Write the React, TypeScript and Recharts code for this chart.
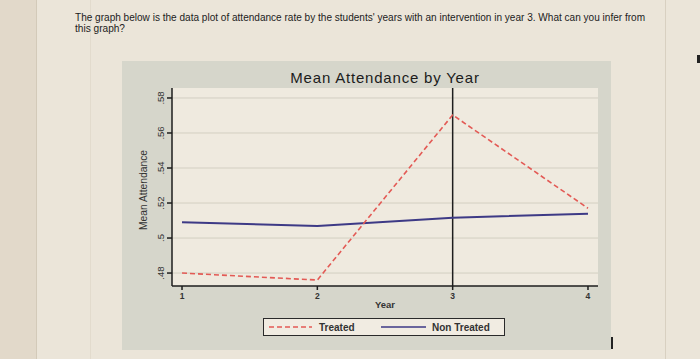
import React from "react";
import {
  LineChart,
  Line,
  XAxis,
  YAxis,
  CartesianGrid,
  ReferenceLine,
} from "recharts";

const years = [1, 2, 3, 4];
const treated = [0.48, 0.476, 0.5703, 0.517];
const nonTreated = [0.509, 0.5069, 0.5116, 0.5139];
const yTicks = [0.48, 0.5, 0.52, 0.54, 0.56, 0.58];
const yTickLabels = [".48", ".5", ".52", ".54", ".56", ".58"];
const xTicks = [1, 2, 3, 4];
const interventionYear = 3;

const questionLine1 =
  "The graph below is the data plot of attendance rate by the students' years with an intervention in year 3. What can you infer from";
const questionLine2 = "this graph?";
const chartTitle = "Mean Attendance by Year";
const xTitle = "Year";
const yTitle = "Mean Attendance";
const seriesNames = ["Treated", "Non Treated"];

const data = years.map((y, i) => ({
  year: y,
  treated: treated[i],
  nonTreated: nonTreated[i],
}));

const RED = "#e35a55";
const BLUE = "#3d3a86";
const AXIS = "#1e1e1e";
const FONT = "'Liberation Sans', Arial, sans-serif";

const YTick = (props: any) => {
  const { x, y, payload } = props;
  const idx = yTicks.indexOf(payload.value);
  const label = idx >= 0 ? yTickLabels[idx] : String(payload.value);
  return (
    <text
      x={x}
      y={y}
      transform={`rotate(-90, ${x}, ${y})`}
      textAnchor="middle"
      fontSize={9.5}
      fill="#333"
      fontFamily={FONT}
    >
      {label}
    </text>
  );
};

const XTick = (props: any) => {
  const { x, y, payload } = props;
  return (
    <text
      x={x}
      y={y + 7}
      textAnchor="middle"
      fontSize={8.5}
      fontWeight={700}
      fill="#333"
      fontFamily={FONT}
    >
      {payload.value}
    </text>
  );
};

export default function App() {
  return (
    <div
      style={{
        position: "absolute",
        left: 0,
        top: 0,
        width: 700,
        height: 359,
        background: "#ebe5d9",
        overflow: "hidden",
        fontFamily: FONT,
      }}
    >
      {/* page decorations */}
      <div style={{ position: "absolute", left: 0, top: 0, width: 36, height: 359, background: "#e2d9ca" }} />
      <div style={{ position: "absolute", left: 36, top: 0, width: 1, height: 359, background: "#d3cab9" }} />
      <div style={{ position: "absolute", left: 90, top: 0, width: 1, height: 359, background: "#e2dbcd" }} />
      <div style={{ position: "absolute", left: 665, top: 0, width: 1, height: 359, background: "#d8d0c1" }} />
      <div style={{ position: "absolute", left: 697, top: 55, width: 3, height: 8, background: "#222" }} />

      {/* question text */}
      <svg width={700} height={40} style={{ position: "absolute", left: 0, top: 0 }}>
        <text
          x={75}
          y={21}
          fontSize={10}
          fill="#1c1c1c"
          fontFamily={FONT}
          textLength={570}
          lengthAdjust="spacingAndGlyphs"
        >
          {questionLine1}
        </text>
        <text
          x={75}
          y={32}
          fontSize={10}
          fill="#1c1c1c"
          fontFamily={FONT}
          textLength={50}
          lengthAdjust="spacingAndGlyphs"
        >
          {questionLine2}
        </text>
      </svg>

      {/* chart frame */}
      <div
        style={{
          position: "absolute",
          left: 122,
          top: 61,
          width: 489,
          height: 289,
          background: "#d6d6cb",
        }}
      />

      <div style={{ position: "absolute", left: 0, top: 0 }}>
        <LineChart
          width={700}
          height={359}
          data={data}
          margin={{ top: 88, right: 102, bottom: 43, left: 132 }}
        >
          <CartesianGrid
            vertical={false}
            stroke="#d3cfc2"
            strokeWidth={1}
            fill="#efeadf"
            horizontalValues={yTicks}
          />
          <XAxis
            dataKey="year"
            type="number"
            domain={[0.926, 4.074]}
            ticks={xTicks}
            allowDataOverflow
            height={30}
            stroke={AXIS}
            strokeWidth={1.5}
            tickSize={4}
            tickLine={{ stroke: AXIS, strokeWidth: 1.5 }}
            tick={<XTick />}
          />
          <YAxis
            type="number"
            domain={[0.4726, 0.5857]}
            ticks={yTicks}
            allowDataOverflow
            width={40}
            stroke={AXIS}
            strokeWidth={1.5}
            tickSize={5}
            tickLine={{ stroke: AXIS, strokeWidth: 1.5 }}
            tickMargin={3}
            tick={<YTick />}
          />
          <ReferenceLine x={interventionYear} stroke={AXIS} strokeWidth={1.5} />
          <Line
            type="linear"
            dataKey="nonTreated"
            name={seriesNames[1]}
            stroke={BLUE}
            strokeWidth={2}
            dot={false}
            isAnimationActive={false}
          />
          <Line
            type="linear"
            dataKey="treated"
            name={seriesNames[0]}
            stroke={RED}
            strokeWidth={1.6}
            strokeDasharray="5 3"
            dot={false}
            isAnimationActive={false}
          />
        </LineChart>
      </div>

      {/* titles */}
      <div
        style={{
          position: "absolute",
          left: 185,
          width: 400,
          top: 69,
          textAlign: "center",
          fontSize: 15,
          letterSpacing: 0.8,
          color: "#1c1c1c",
          lineHeight: "17px",
        }}
      >
        {chartTitle}
      </div>
      <div
        style={{
          position: "absolute",
          left: 335,
          width: 100,
          top: 299,
          textAlign: "center",
          fontSize: 9.5,
          fontWeight: 700,
          color: "#333",
          lineHeight: "11px",
        }}
      >
        {xTitle}
      </div>
      <svg width={40} height={120} style={{ position: "absolute", left: 125, top: 130 }}>
        <text
          x={22}
          y={60}
          transform="rotate(-90, 22, 60)"
          textAnchor="middle"
          fontSize={10}
          fill="#333"
          fontFamily={FONT}
          textLength={80}
          lengthAdjust="spacingAndGlyphs"
        >
          {yTitle}
        </text>
      </svg>

      {/* legend */}
      <div
        style={{
          position: "absolute",
          left: 263,
          top: 318,
          width: 240,
          height: 16,
          border: "1.5px solid #2a2a2a",
          background: "#f1ece2",
        }}
      >
        <svg width={240} height={16} style={{ position: "absolute", left: 0, top: 0 }}>
          <line x1={5} y1={8} x2={48} y2={8} stroke={RED} strokeWidth={1.6} strokeDasharray="5 3" />
          <text x={55} y={12} fontSize={10} fontWeight={700} fill="#333" fontFamily={FONT}>
            {seriesNames[0]}
          </text>
          <line x1={117} y1={8} x2={162} y2={8} stroke={BLUE} strokeWidth={1.6} />
          <text x={168} y={12} fontSize={10} fontWeight={700} fill="#333" fontFamily={FONT}>
            {seriesNames[1]}
          </text>
        </svg>
      </div>

      <div style={{ position: "absolute", left: 611, top: 337, width: 2, height: 12, background: "#222" }} />
    </div>
  );
}
